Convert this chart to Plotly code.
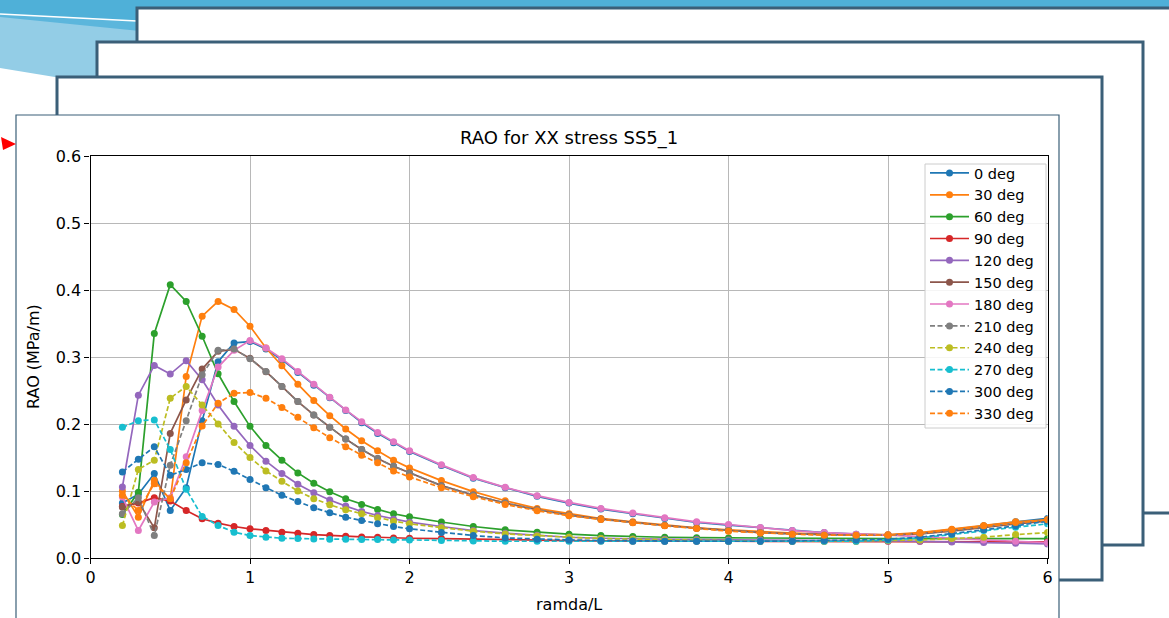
import plotly.graph_objects as go

W, H = 1169, 618

# ---------------- data ----------------
x_vals = [0.2, 0.3, 0.4, 0.5, 0.6, 0.7, 0.8, 0.9, 1.0, 1.1, 1.2, 1.3, 1.4, 1.5, 1.6, 1.7, 1.8, 1.9, 2.0,
          2.2, 2.4, 2.6, 2.8, 3.0, 3.2, 3.4, 3.6, 3.8, 4.0, 4.2, 4.4, 4.6, 4.8, 5.0, 5.2, 5.4, 5.6, 5.8, 6.0]

deg0 = [0.082, 0.095, 0.126, 0.071, 0.105, 0.205, 0.293, 0.321, 0.323, 0.312, 0.296, 0.277, 0.258, 0.239, 0.220, 0.202, 0.186, 0.172, 0.159,
        0.138, 0.119, 0.105, 0.092, 0.082, 0.073, 0.066, 0.059, 0.053, 0.049, 0.045, 0.041, 0.038, 0.0355, 0.034, 0.037, 0.042, 0.048, 0.054, 0.059]
deg30 = [0.100, 0.061, 0.116, 0.087, 0.271, 0.361, 0.383, 0.371, 0.346, 0.3135, 0.287, 0.2595, 0.235, 0.2125, 0.1925, 0.175, 0.160, 0.146, 0.1345,
         0.1155, 0.099, 0.0855, 0.074, 0.066, 0.059, 0.054, 0.049, 0.045, 0.042, 0.039, 0.037, 0.0355, 0.035, 0.035, 0.038, 0.043, 0.048, 0.054, 0.057]
deg60 = [0.065, 0.098, 0.335, 0.408, 0.383, 0.331, 0.275, 0.2335, 0.1965, 0.168, 0.146, 0.127, 0.1115, 0.099, 0.0885, 0.080, 0.0725, 0.066, 0.0615,
         0.0537, 0.047, 0.042, 0.0383, 0.0355, 0.0335, 0.032, 0.031, 0.0303, 0.030, 0.0295, 0.029, 0.029, 0.029, 0.029, 0.029, 0.029, 0.029, 0.029, 0.029]
deg90 = [0.077, 0.082, 0.090, 0.085, 0.071, 0.0585, 0.052, 0.047, 0.0435, 0.041, 0.0385, 0.037, 0.035, 0.0335, 0.0325, 0.0315, 0.031, 0.030, 0.0295,
         0.029, 0.028, 0.027, 0.0265, 0.026, 0.0255, 0.025, 0.025, 0.025, 0.025, 0.025, 0.025, 0.025, 0.025, 0.025, 0.025, 0.0245, 0.0245, 0.024, 0.024]
deg120 = [0.106, 0.243, 0.2875, 0.2745, 0.2945, 0.266, 0.2285, 0.1965, 0.168, 0.1445, 0.126, 0.110, 0.0975, 0.0865, 0.0775, 0.0695, 0.0635, 0.058, 0.0535,
          0.047, 0.041, 0.037, 0.034, 0.031, 0.0295, 0.0285, 0.028, 0.0275, 0.027, 0.027, 0.0265, 0.026, 0.026, 0.0255, 0.025, 0.024, 0.023, 0.022, 0.021]
deg150 = [0.076, 0.0835, 0.045, 0.186, 0.236, 0.282, 0.3085, 0.3115, 0.298, 0.278, 0.256, 0.2335, 0.2135, 0.195, 0.1775, 0.162, 0.1485, 0.137, 0.127,
          0.108, 0.094, 0.082, 0.072, 0.064, 0.058, 0.053, 0.0485, 0.0445, 0.041, 0.038, 0.036, 0.0345, 0.034, 0.034, 0.036, 0.040, 0.046, 0.051, 0.055]
deg180 = [0.091, 0.041, 0.0835, 0.090, 0.151, 0.220, 0.285, 0.310, 0.3245, 0.3135, 0.2975, 0.2785, 0.2595, 0.240, 0.221, 0.2035, 0.1875, 0.1735, 0.160,
          0.139, 0.120, 0.1055, 0.093, 0.083, 0.074, 0.067, 0.060, 0.054, 0.050, 0.0455, 0.041, 0.038, 0.0355, 0.034, 0.032, 0.029, 0.027, 0.025, 0.023]
deg210 = [0.066, 0.090, 0.0335, 0.1385, 0.205, 0.2735, 0.310, 0.312, 0.2975, 0.2785, 0.256, 0.2335, 0.2135, 0.195, 0.1775, 0.162, 0.1485, 0.137, 0.127,
          0.108, 0.094, 0.082, 0.072, 0.064, 0.058, 0.053, 0.0485, 0.0445, 0.041, 0.038, 0.036, 0.0345, 0.034, 0.034, 0.036, 0.041, 0.047, 0.052, 0.056]
deg240 = [0.0485, 0.132, 0.146, 0.2385, 0.256, 0.2285, 0.200, 0.1725, 0.150, 0.130, 0.1145, 0.100, 0.0885, 0.0795, 0.072, 0.066, 0.060, 0.055, 0.051,
          0.045, 0.040, 0.036, 0.033, 0.031, 0.029, 0.028, 0.027, 0.026, 0.0255, 0.025, 0.025, 0.025, 0.025, 0.026, 0.027, 0.029, 0.031, 0.035, 0.038]
deg270 = [0.195, 0.205, 0.206, 0.162, 0.1025, 0.062, 0.0485, 0.0385, 0.0335, 0.031, 0.0295, 0.029, 0.0285, 0.028, 0.028, 0.0275, 0.0275, 0.027, 0.027,
          0.026, 0.0255, 0.025, 0.025, 0.025, 0.025, 0.025, 0.025, 0.025, 0.025, 0.025, 0.025, 0.025, 0.025, 0.027, 0.030, 0.035, 0.041, 0.046, 0.051]
deg300 = [0.1285, 0.1475, 0.166, 0.1235, 0.132, 0.142, 0.1395, 0.1295, 0.117, 0.105, 0.0935, 0.0845, 0.075, 0.0675, 0.061, 0.056, 0.051, 0.047, 0.0435,
          0.038, 0.0335, 0.030, 0.028, 0.027, 0.026, 0.0255, 0.025, 0.025, 0.025, 0.025, 0.025, 0.026, 0.027, 0.028, 0.031, 0.036, 0.042, 0.048, 0.055]
deg330 = [0.0935, 0.071, 0.111, 0.0885, 0.142, 0.197, 0.231, 0.246, 0.247, 0.2385, 0.2245, 0.210, 0.1945, 0.1795, 0.166, 0.1535, 0.142, 0.130, 0.121,
          0.105, 0.0915, 0.080, 0.0705, 0.063, 0.0575, 0.0525, 0.048, 0.044, 0.040, 0.0375, 0.0355, 0.034, 0.034, 0.034, 0.037, 0.042, 0.048, 0.053, 0.057]

series_names = ["0 deg", "30 deg", "60 deg", "90 deg", "120 deg", "150 deg", "180 deg",
                "210 deg", "240 deg", "270 deg", "300 deg", "330 deg"]
series_values = [deg0, deg30, deg60, deg90, deg120, deg150, deg180, deg210, deg240, deg270, deg300, deg330]
series_colors = ["#1f77b4", "#ff7f0e", "#2ca02c", "#d62728", "#9467bd", "#8c564b", "#e377c2",
                 "#7f7f7f", "#bcbd22", "#17becf", "#1f77b4", "#ff7f0e"]
series_dash = ["solid"] * 7 + ["5px,2.5px"] * 5

x_ticks = [0, 1, 2, 3, 4, 5, 6]
y_ticks = [0.0, 0.1, 0.2, 0.3, 0.4, 0.5, 0.6]

# ---------------- helpers (pixel -> paper) ----------------
def px(v):
    return v / W

def py(v):
    return 1 - v / H

def path(points):
    return "M " + " L ".join(f"{px(a):.5f},{py(b):.5f}" for a, b in points) + " Z"

fig = go.Figure()

for name, vals, col, dash in zip(series_names, series_values, series_colors, series_dash):
    fig.add_trace(go.Scatter(
        x=x_vals, y=vals, name=name, mode="lines+markers",
        line=dict(color=col, width=1.7, dash=dash),
        marker=dict(color=col, size=7),
        legendgroup=name,
    ))

FRAME = "#3b5f78"
shapes = []
# slide decoration
shapes.append(dict(type="path", path=path([(0, 0), (140, 0), (140, 91), (0, 68)]),
                   fillcolor="#93cde6", line=dict(width=0), xref="paper", yref="paper", layer="below"))
shapes.append(dict(type="path", path=path([(0, 0), (140, 0), (140, 31), (0, 17)]),
                   fillcolor="#5cb6dc", line=dict(width=0), xref="paper", yref="paper", layer="below"))
shapes.append(dict(type="path", path=path([(0, 0), (W, 0), (W, 8), (140, 8), (140, 21), (0, 14)]),
                   fillcolor="#4fb0d8", line=dict(width=0), xref="paper", yref="paper", layer="below"))
shapes.append(dict(type="line", x0=px(0), y0=py(14), x1=px(137), y1=py(21),
                   line=dict(color="white", width=1.5), xref="paper", yref="paper", layer="below"))
# stacked frames
for (x0, y0, x1, y1, lw) in [(137, 8, 1185, 513, 3), (97, 42, 1143, 545, 3),
                             (57, 77, 1102, 580, 3), (16, 115, 1059, 650, 1.2)]:
    shapes.append(dict(type="rect", x0=px(x0), y0=py(y0), x1=px(x1), y1=py(y1),
                       fillcolor="white", line=dict(color=FRAME, width=lw),
                       xref="paper", yref="paper", layer="below"))
# red arrow
shapes.append(dict(type="path", path=path([(1, 137), (16, 144), (3, 150)]),
                   fillcolor="#ff0000", line=dict(width=0), xref="paper", yref="paper", layer="below"))
# legend frame (matplotlib style box)
shapes.append(dict(type="rect", x0=px(925), y0=py(164), x1=px(1046), y1=py(428),
                   fillcolor="rgba(255,255,255,0.85)", line=dict(color="#cccccc", width=1),
                   xref="paper", yref="paper", layer="above"))

FONT = "DejaVu Sans"
annotations = [
    dict(text="RAO for XX stress SS5_1", x=px(569), y=py(138), xref="paper", yref="paper",
         showarrow=False, font=dict(family=FONT, size=18, color="black"), xanchor="center", yanchor="middle"),
    dict(text="ramda/L", x=px(569), y=py(604), xref="paper", yref="paper",
         showarrow=False, font=dict(family=FONT, size=16, color="black"), xanchor="center", yanchor="middle"),
    dict(text="RAO (MPa/m)", x=px(33), y=py(357), xref="paper", yref="paper", textangle=-90,
         showarrow=False, font=dict(family=FONT, size=16, color="black"), xanchor="center", yanchor="middle"),
]

axis_common = dict(showgrid=True, gridcolor="#b8b8b8", gridwidth=1, showline=True, linecolor="black",
                   linewidth=1.3, mirror=True, ticks="outside", ticklen=5, tickcolor="black",
                   tickfont=dict(family=FONT, size=16, color="black"), zeroline=False, automargin=False)

fig.update_layout(
    width=W, height=H, autosize=False,
    margin=dict(l=0, r=0, t=0, b=0, pad=0, autoexpand=False),
    paper_bgcolor="white", plot_bgcolor="white",
    shapes=shapes, annotations=annotations,
    xaxis=dict(domain=[px(90.5), px(1047.5)], range=[0, 6], tickvals=x_ticks,
               ticktext=[str(t) for t in x_ticks], **axis_common),
    yaxis=dict(domain=[py(558), py(156)], range=[0, 0.6], tickvals=y_ticks,
               ticktext=[f"{t:.1f}" for t in y_ticks], **axis_common),
    showlegend=True,
    legend=dict(x=px(925), y=py(157), xanchor="left", yanchor="top",
                bgcolor="rgba(0,0,0,0)", borderwidth=0,
                font=dict(family=FONT, size=14.5, color="black"), tracegroupgap=0,
                itemwidth=39),
)

fig.write_html("out.html")
